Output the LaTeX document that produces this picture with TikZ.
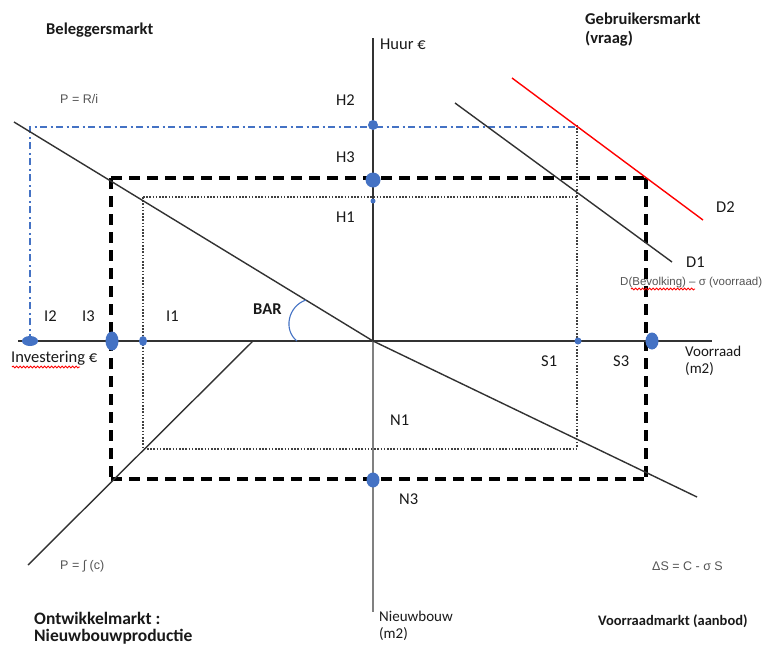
\documentclass[tikz,border=0pt]{standalone}
\usepackage{fontspec}
\setmainfont{Carlito}
\newfontfamily\formfont{Liberation Sans}
\usetikzlibrary{decorations.pathmorphing}
\definecolor{axisgray}{RGB}{50,50,50}
\definecolor{dotblue}{RGB}{68,114,196}
\definecolor{formgray}{RGB}{85,85,85}
\tikzset{
  axisline/.style={draw=axisgray, line width=1.6pt},
  curve/.style={draw=axisgray, line width=1.4pt},
  thickdash/.style={draw=black, line width=3.2pt, dash pattern=on 11pt off 7pt},
  dotline/.style={draw=black!75, line width=1.2pt, dash pattern=on 1.6pt off 1.6pt},
  bluedash/.style={draw=dotblue, line width=1.2pt, dash pattern=on 7pt off 3.5pt on 2pt off 3.5pt},
  bluedot/.style={fill=dotblue, draw=none},
  lbl/.style={font=\fontsize{16.5}{19}\selectfont, inner sep=0pt, anchor=west, text=black!90},
  blbl/.style={font=\fontsize{16.5}{19}\selectfont\bfseries, inner sep=0pt, anchor=west, align=left, text=black!90},
  form/.style={font=\formfont\fontsize{12.5}{14}\selectfont, inner sep=0pt, anchor=west, text=formgray},
  wavy/.style={draw=red, line width=0.9pt, decorate, decoration={snake, amplitude=0.9pt, segment length=3.5pt}}
}
\begin{document}
\begin{tikzpicture}[x=1pt,y=-1pt]
\useasboundingbox (0,0) rectangle (769,646);
\fill[white] (0,0) rectangle (769,646);

% coordinates
\coordinate (O) at (373,341);
\coordinate (axL) at (18,341);
\coordinate (axR) at (712,341);
\coordinate (axT) at (373,38);
\coordinate (axB) at (373,612);
\coordinate (bigA) at (14,122);
\coordinate (bigB) at (697,497);
\coordinate (llA) at (28,565);
\coordinate (llB) at (253,341);
\coordinate (d1A) at (455,103);
\coordinate (d1B) at (672,262);
\coordinate (d2A) at (512,78);
\coordinate (d2B) at (703,220);

% dotted rectangle (equilibrium 1)
\draw[dotline] (577,125) -- (577,448);
\draw[dotline] (143,197) -- (577,197);
\draw[dotline] (143,197) -- (143,449) -- (577,449);

% blue dash-dot (H2)
\draw[bluedash] (30,341) -- (30,127) -- (575,127);

% thick dashed rectangle (equilibrium 3)
\draw[thickdash] (111,178) -- (646,178);
\draw[thickdash] (646,178) -- (646,479);
\draw[thickdash] (111,178) -- (111,479);
\draw[thickdash] (111,479) -- (646,479);

% axes
\draw[axisline] (axL) -- (axR);
\draw[axisline] (axT) -- (O);
\draw[axisline, draw=gray] (O) -- (axB);

% curves
\draw[curve] (bigA) -- (O) -- (bigB);
\draw[curve] (llA) -- (llB);
\draw[curve] (d1A) -- (d1B);
\draw[draw=red, line width=1.4pt] (d2A) -- (d2B);

% BAR arc
\draw[draw=dotblue, line width=1.1pt] (297,341) .. controls (283,330) and (288,306) .. (306,300);

% dots
\fill[bluedot] (373,125) circle (5);
\fill[bluedot] (373,180) circle (7.5);
\fill[bluedot] (373,201) circle (2.5);
\fill[bluedot] (30,341) ellipse (8 and 5);
\fill[bluedot] (112,341) ellipse (6.5 and 9.5);
\fill[bluedot] (143,341) ellipse (4 and 5);
\fill[bluedot] (578,341) circle (3.5);
\fill[bluedot] (652,341) ellipse (6.5 and 8.5);
\fill[bluedot] (373,480) ellipse (6.5 and 7.5);

% labels
\node[blbl] (beleg) at (46,30) {Beleggersmarkt};
\node[blbl, align=left, anchor=north west] (gebr) at (585,13) {Gebruikersmarkt\\(vraag)};
\node[blbl, align=left, anchor=north west, font=\fontsize{17.5}{17}\selectfont\bfseries] (ontw) at (34,612) {Ontwikkelmarkt :\\Nieuwbouwproductie};
\node[blbl, font=\fontsize{14.5}{17}\selectfont\bfseries] (voorm) at (598,621) {Voorraadmarkt (aanbod)};
\node[lbl] (huur) at (380,44) {Huur €};
\node[lbl] (h2) at (336,100) {H2};
\node[lbl] (h3) at (336,157) {H3};
\node[lbl] (h1) at (336,217) {H1};
\node[lbl] (i2) at (44,316) {I2};
\node[lbl] (i3) at (82,316) {I3};
\node[lbl] (i1) at (166,316) {I1};
\node[blbl] (bar) at (253,309) {BAR};
\node[lbl] (inv) at (11,358) {Investering €};
\draw[wavy] (12,367) -- (80,367);
\node[lbl] (s1) at (541,361) {S1};
\node[lbl] (s3) at (613,361) {S3};
\node[lbl, align=left, anchor=north west, font=\fontsize{15}{17}\selectfont] (voorr) at (685,346) {Voorraad\\(m2)};
\node[lbl] (n1) at (390,420) {N1};
\node[lbl] (n3) at (399,499) {N3};
\node[lbl, align=left, anchor=north west, font=\fontsize{15}{17}\selectfont] (nieuw) at (379,611) {Nieuwbouw\\(m2)};
\node[lbl] (d2) at (716,207) {D2};
\node[lbl] (d1) at (686,262) {D1};
\node[form, font=\formfont\fontsize{11.5}{13}\selectfont] (dform) at (620,283) {D(Bevolking) – σ (voorraad)};
\draw[wavy] (631,289) -- (695,289);
\node[form] (prf) at (60,99) {P = R/i};
\node[form] (pfc) at (60,566) {P = ∫ (c)};
\node[form] (ds) at (652,566) {ΔS = C - σ S};
\end{tikzpicture}
\end{document}
